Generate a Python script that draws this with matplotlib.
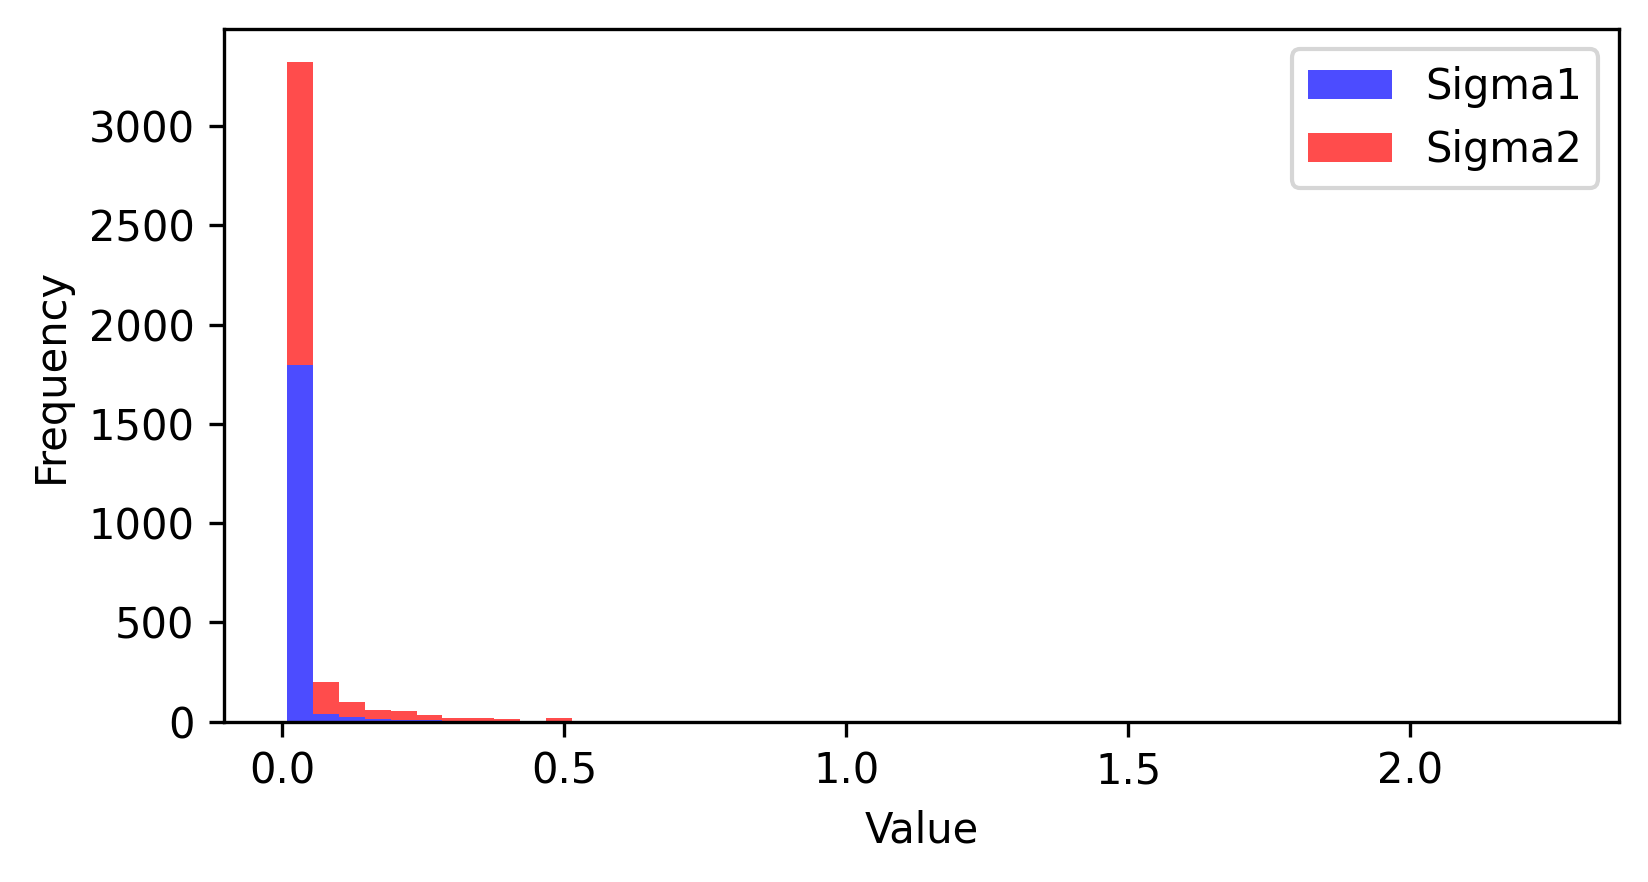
import numpy as np
import matplotlib
matplotlib.use("Agg")
import matplotlib.pyplot as plt

# Histogram bin range and counts
bin_start = 0.0086
bin_end = 2.258
n_bins = 49

sigma1_counts = [1795, 39, 25, 14, 8, 7, 5, 4, 4, 1, 0, 0, 0] + [0] * 36
sigma2_counts = [1530, 161, 74, 45, 46, 27, 14, 15, 9, 3, 19, 3, 3] + [0] * 35 + [1]

labels = ["Sigma1", "Sigma2"]
colors = ["blue", "red"]

edges = np.linspace(bin_start, bin_end, n_bins + 1)
centers = (edges[:-1] + edges[1:]) / 2

fig = plt.figure(figsize=(1648 / 300, 882 / 300), dpi=300)
ax = fig.add_axes([0.1357, 0.1817, 0.9826 - 0.1357, 0.9675 - 0.1817])

ax.hist([centers, centers], bins=edges, weights=[sigma1_counts, sigma2_counts],
        stacked=True, color=colors, alpha=0.7, label=labels)

ax.set_xlabel("Value")
ax.set_ylabel("Frequency")
ax.legend(loc="upper right")

fig.savefig("out.png", dpi=300)
